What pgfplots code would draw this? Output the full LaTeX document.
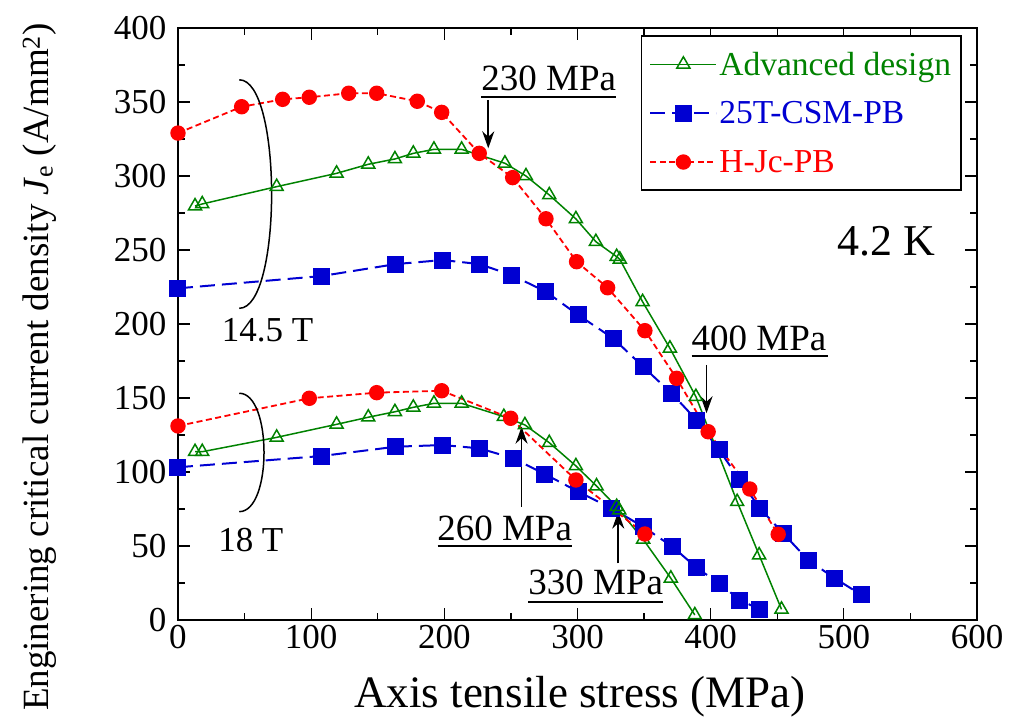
\documentclass[border=0pt]{standalone}
\usepackage{fontspec}
\setmainfont{Liberation Serif}
\usepackage{pgfplots}
\pgfplotsset{compat=1.18}
\usetikzlibrary{arrows.meta}

\definecolor{adgreen}{RGB}{0,130,0}
\definecolor{csmblue}{RGB}{0,0,210}
\definecolor{hjcred}{RGB}{255,0,0}

\pgfplotsset{
  advstyle/.style={color=adgreen, line width=1.5pt, mark=triangle, mark size=7.5pt, mark options={solid, line width=1.5pt}},
  csmstyle/.style={color=csmblue, line width=2pt, dash pattern=on 15pt off 7pt, mark=square*, mark size=7.5pt, mark options={solid}},
  hjcstyle/.style={color=hjcred, line width=1.8pt, dash pattern=on 6pt off 3.5pt, mark=*, mark size=6.8pt, mark options={solid}},
}

\newcommand{\annot}[1]{\fontsize{#1}{#1}\selectfont}

\begin{document}
\begin{tikzpicture}
\path[use as bounding box] (-178pt,-105pt) rectangle (832pt,620pt);
\begin{axis}[
  at={(0pt,0pt)}, anchor=south west,
  scale only axis, width=799pt, height=592pt,
  xmin=0, xmax=600, ymin=0, ymax=400,
  xtick={0,100,...,600}, minor xtick={50,150,...,550},
  ytick={0,50,...,400}, minor ytick={25,75,...,375},
  tick align=inside,
  major tick length=12pt, minor tick length=7pt,
  every tick/.style={black, line width=1.3pt},
  axis line style={line width=1.8pt},
  clip=false,
  /pgf/number format/assume math mode=true,
  tick label style={font=\annot{35}},
  yticklabel style={xshift=-8pt},
  xticklabel style={yshift=-2pt},
  xlabel={Axis tensile stress (MPa)},
  xlabel style={font=\annot{45}, at={(axis description cs:0.503,-0.13)}, anchor=center},
  ylabel={Enginering critical current density \textit{J}\textsubscript{e} (A/mm\textsuperscript{2})},
  ylabel style={font=\annot{37}, at={(axis description cs:-0.173,0.427)}, anchor=center},
  legend style={at={(axis description cs:0.981,0.988)}, anchor=north east,
    draw=black, line width=1.6pt, font=\annot{33.5},
    inner xsep=8pt, inner ysep=14pt, row sep=21pt},
  legend cell align=left,
  legend image code/.code={\draw[mark repeat=2, mark phase=2, #1] plot coordinates {(0pt,0pt) (33pt,0pt) (66pt,0pt)};},
]
% legend entries in display order
\addlegendimage{advstyle}
\addlegendentry[text=adgreen]{Advanced design}
\addlegendimage{csmstyle}
\addlegendentry[text=csmblue]{25T-CSM-PB}
\addlegendimage{hjcstyle}
\addlegendentry[text=hjcred]{H-Jc-PB}

% 25T-CSM-PB, 14.5 T
\addplot[csmstyle, forget plot] coordinates {
(0,224.1) (107.9,232.4) (163.7,240.5) (198.7,243.2) (226.2,240.5) (250.5,233.1)
(276.3,221.8) (300.5,206.1) (326.8,190.3) (349.3,171.1) (370.6,153.2) (389.4,135.1)
(406.4,114.9) (421.9,94.6) (436.9,75.5) (454.4,58.6) (473.2,40.5) (493.2,28.2) (513.3,16.9)};
% 25T-CSM-PB, 18 T
\addplot[csmstyle, forget plot] coordinates {
(0,103.2) (107.9,110.8) (163.7,117.1) (198.7,118.2) (226.2,116) (251.7,109.3)
(275.5,98.6) (300.5,86.7) (325.6,75.5) (349.3,63) (371.4,49.5) (389.4,35.3)
(406.4,24.8) (421.9,13.5) (436.9,7.2)};

% Advanced design, 14.5 T
\addplot[advstyle, forget plot] coordinates {
(12.8,279.7) (18.2,281.1) (74.1,292.8) (119.1,301.8) (142.9,307.9) (162.9,311.5)
(176.7,315.3) (192.2,318) (213,318) (245.5,308.6) (261.3,300) (278.8,287.2)
(298.8,271) (313.8,255.6) (329.4,245.5) (331.8,243.7) (348.9,215) (369.4,183.6)
(388.9,150.9) (419.9,79.9) (436.4,43.9) (453.2,7.2)};
% Advanced design, 18 T
\addplot[advstyle, forget plot] coordinates {
(12.8,113.7) (18.2,113.7) (74.1,123.4) (119.1,132.2) (142.9,137) (162.9,140.7)
(176.7,143.7) (192.2,146.4) (213,146.4) (244.7,137.4) (260.5,131.8) (278.8,119.8)
(298.8,104.1) (314.3,90.5) (329.4,76.6) (331.3,74.3) (349.3,54.5) (370.1,28.2) (388.1,3.4)};

% H-Jc-PB, 14.5 T
\addplot[hjcstyle, forget plot] coordinates {
(0,329) (47.8,346.8) (78.6,351.8) (98.6,353.2) (128.2,355.9) (149.2,355.9)
(179.7,350.5) (198,343) (226.2,315.3) (251.3,298.9) (276.3,271.1) (299.3,242.1)
(322.6,224.5) (350.6,195.5) (374.4,163.3) (398.1,127.2) (429.4,88.5) (450.7,57.9)};
% H-Jc-PB, 18 T
\addplot[hjcstyle, forget plot] coordinates {
(0,131.1) (98.6,149.8) (149.2,153.6) (198,154.9) (249.8,136.3) (298.8,94.6) (350.6,58.1)};

% field brackets
\draw[line width=1.5pt] (axis cs:46,365) .. controls (axis cs:78.4,365) and (axis cs:78.4,210.6) .. (axis cs:46,210.6);
\draw[line width=1.5pt] (axis cs:46,153.2) .. controls (axis cs:70.8,153.2) and (axis cs:70.8,73.2) .. (axis cs:46,73.2);
\node[font=\annot{35}, anchor=base] at (axis cs:67.2,188) {14.5 T};
\node[font=\annot{35}, anchor=base] at (axis cs:54.7,46.2) {18 T};

% temperature
\node[font=\annot{44}, anchor=base] at (axis cs:532,246.6) {4.2 K};

% stress markers
\node[font=\annot{37}, anchor=base] at (axis cs:278.4,358.1) {230 MPa};
\draw[line width=2pt] (axis cs:227.9,353.6) -- (axis cs:328.7,353.6);
\draw[line width=1.6pt, -{Stealth[length=17pt,width=12pt]}] (axis cs:233,351.4) -- (axis cs:233,318.7);

\node[font=\annot{37}, anchor=base] at (axis cs:436.3,182.4) {400 MPa};
\draw[line width=2pt] (axis cs:385.7,178.4) -- (axis cs:488.2,178.4);
\draw[line width=1.6pt, -{Stealth[length=17pt,width=12pt]}] (axis cs:396.9,172.3) -- (axis cs:396.9,139.7);

\node[font=\annot{37}, anchor=base] at (axis cs:245.3,54) {260 MPa};
\draw[line width=2pt] (axis cs:195,50.2) -- (axis cs:295.6,50.2);
\draw[line width=1.6pt, -{Stealth[length=17pt,width=12pt]}] (axis cs:258,76.6) -- (axis cs:258,130.6);

\node[font=\annot{37}, anchor=base] at (axis cs:313.7,16.9) {330 MPa};
\draw[line width=2pt] (axis cs:263,12.4) -- (axis cs:364.3,12.4);
\draw[line width=1.6pt, -{Stealth[length=17pt,width=12pt]}] (axis cs:330.6,38.3) -- (axis cs:330.6,73.2);
\end{axis}
\end{tikzpicture}
\end{document}
